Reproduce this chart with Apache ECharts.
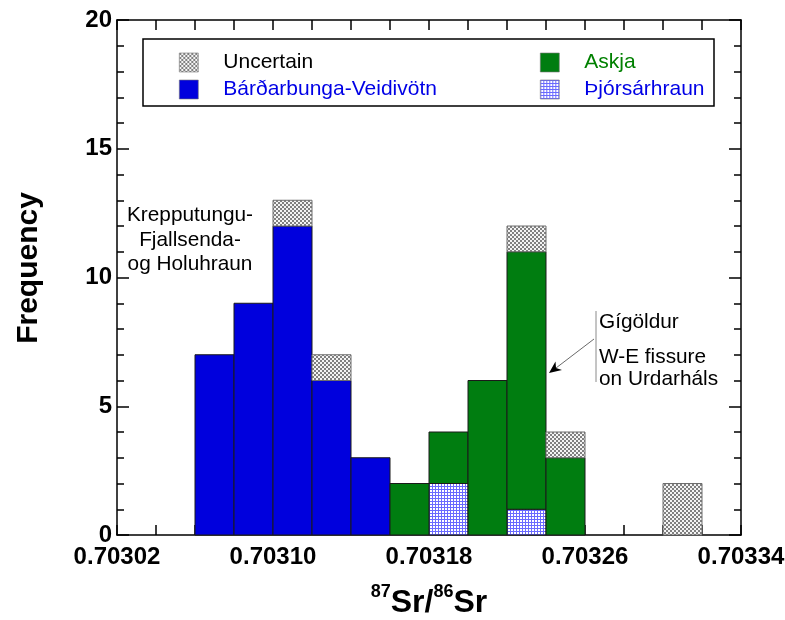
<!DOCTYPE html>
<html>
<head>
<meta charset="utf-8">
<script src="https://cdn.jsdelivr.net/npm/echarts@6/dist/echarts.min.js"></script>
<style>html,body{margin:0;padding:0;background:#fff}#c{width:785px;height:620px}</style>
</head>
<body>
<div id="c"></div>
<script>
// ---- data ----
const xOrigin = 0.70302;
const xEnd = 0.70334;
const xTickStep = 0.00008;
const binWidth = 0.00002;
const binStart = [0.70306, 0.70308, 0.70310, 0.70312, 0.70314, 0.70316, 0.70318, 0.70320, 0.70322, 0.70324, 0.70326, 0.70328, 0.70330];
const thjorsa     = [0, 0, 0, 0, 0, 0, 2, 0, 1, 0, 0, 0, 0];
const bardarbunga = [7, 9, 12, 6, 3, 0, 0, 0, 0, 0, 0, 0, 0];
const askja       = [0, 0, 0, 0, 0, 2, 2, 6, 10, 3, 0, 0, 0];
const uncertain   = [0, 0, 1, 1, 0, 0, 0, 0, 1, 1, 0, 0, 2];
const yTicks = [0, 5, 10, 15, 20];
const names = ['Uncertain', 'Bárðarbunga-Veidivötn', 'Askja', 'Þjórsárhraun'];

// ---- patterns ----
function makeChecker() {
  const c = document.createElement('canvas'); c.width = 4; c.height = 4;
  const g = c.getContext('2d');
  g.fillStyle = '#f4f4f4'; g.fillRect(0, 0, 4, 4);
  g.fillStyle = '#808080'; g.fillRect(0, 0, 2, 2); g.fillRect(2, 2, 2, 2);
  return c;
}
function makeGrid() {
  const c = document.createElement('canvas'); c.width = 3; c.height = 3;
  const g = c.getContext('2d');
  g.fillStyle = '#ffffff'; g.fillRect(0, 0, 3, 3);
  g.fillStyle = '#6a6aff'; g.fillRect(0, 0, 3, 1); g.fillRect(0, 0, 1, 3);
  return c;
}
const checkerPat = { image: makeChecker(), repeat: 'repeat' };
const gridPat = { image: makeGrid(), repeat: 'repeat' };
const BLUE = '#0000dd', GREEN = '#007d10';

// ---- build stacked rectangles (x in units of 1e-5 from origin) ----
const toX = v => Math.round((v - xOrigin) * 1e5 * 1000) / 1000;
const bw = Math.round(binWidth * 1e5 * 1000) / 1000;
const stackOrder = [
  { name: 'Þjórsárhraun', vals: thjorsa },
  { name: 'Bárðarbunga-Veidivötn', vals: bardarbunga },
  { name: 'Askja', vals: askja },
  { name: 'Uncertain', vals: uncertain }
];
const base = binStart.map(() => 0);
const rectData = {};
stackOrder.forEach(s => {
  rectData[s.name] = [];
  s.vals.forEach((v, i) => {
    if (v > 0) {
      const x0 = toX(binStart[i]);
      rectData[s.name].push([x0, x0 + bw, base[i], base[i] + v]);
      base[i] += v;
    }
  });
});

const styles = {
  'Uncertain': { fill: checkerPat, stroke: '#6e6e6e' },
  'Bárðarbunga-Veidivötn': { fill: BLUE, stroke: '#1a1a1a' },
  'Askja': { fill: GREEN, stroke: '#1a1a1a' },
  'Þjórsárhraun': { fill: gridPat, stroke: '#1a1a1a' }
};

function makeSeries(name) {
  return {
    name: name,
    type: 'custom',
    xAxisIndex: 0, yAxisIndex: 0,
    encode: { x: [0, 1], y: [2, 3] },
    itemStyle: { color: styles[name].fill },
    data: rectData[name],
    renderItem: function (params, api) {
      const p0 = api.coord([api.value(0), api.value(3)]);
      const p1 = api.coord([api.value(1), api.value(2)]);
      return {
        type: 'rect',
        shape: { x: p0[0], y: p0[1], width: p1[0] - p0[0], height: p1[1] - p0[1] },
        style: { fill: styles[name].fill, stroke: styles[name].stroke, lineWidth: 1 }
      };
    }
  };
}

const FONT = '"Liberation Sans", Arial, sans-serif';
const ANN = '20.8px ' + FONT;
const xMaxU = toX(xEnd), xStepU = Math.round(xTickStep * 1e5);
const yMin = yTicks[0], yMax = yTicks[yTicks.length - 1], yStep = yTicks[1] - yTicks[0];

const axisLine = { show: true, onZero: false, lineStyle: { color: '#000', width: 1.5 } };
const xCommon = {
  type: 'value', min: 0, max: xMaxU, interval: xStepU,
  axisLine: axisLine, splitLine: { show: false },
  axisTick: { show: true, inside: true, length: 10, lineStyle: { color: '#000', width: 1.5 } },
  minorTick: { show: true, splitNumber: 4, length: 10, lineStyle: { color: '#000', width: 1.5 } },
  minorSplitLine: { show: false }
};
const yCommon = {
  type: 'value', min: yMin, max: yMax, interval: yStep,
  axisLine: axisLine, splitLine: { show: false },
  axisTick: { show: true, inside: true, length: 12, lineStyle: { color: '#000', width: 1.5 } },
  minorTick: { show: true, splitNumber: 5, length: 7, lineStyle: { color: '#000', width: 1.5 } },
  minorSplitLine: { show: false }
};

function legendBlock(items, left) {
  return {
    orient: 'vertical', left: left, top: 52,
    padding: 0, itemGap: 6, itemWidth: 19, itemHeight: 19,
    icon: 'rect', selectedMode: false,
    textStyle: { fontFamily: FONT, fontSize: 21, padding: [0, 0, 0, 20] },
    itemStyle: { borderColor: '#777', borderWidth: 0.6 },
    data: items
  };
}

const chart = echarts.init(document.getElementById('c'), null, { renderer: 'canvas' });
chart.setOption({
  animation: false,
  backgroundColor: '#fff',
  grid: { left: 117, right: 44, top: 20, bottom: 85, containLabel: false, outerBoundsMode: 'none' },
  xAxis: [
    Object.assign({}, xCommon, {
      position: 'bottom',
      axisLabel: {
        margin: 10, color: '#000', fontFamily: FONT, fontSize: 24, fontWeight: 'bold',
        formatter: v => (xOrigin + v * 1e-5).toFixed(5)
      },
      name: '{sup|87}{b|Sr/}{sup|86}{b|Sr}',
      nameLocation: 'middle', nameGap: 48,
      nameTextStyle: {
        rich: {
          b: { fontFamily: FONT, fontSize: 32, fontWeight: 'bold', color: '#000', verticalAlign: 'bottom', lineHeight: 36 },
          sup: { fontFamily: FONT, fontSize: 18, fontWeight: 'bold', color: '#000', verticalAlign: 'top', lineHeight: 36, padding: [0, 0, 14, 0] }
        }
      }
    }),
    Object.assign({}, xCommon, { position: 'top', axisLabel: { show: false } })
  ],
  yAxis: [
    Object.assign({}, yCommon, {
      position: 'left',
      axisLabel: { margin: 5, color: '#000', fontFamily: FONT, fontSize: 24, fontWeight: 'bold' }
    }),
    Object.assign({}, yCommon, { position: 'right', axisLabel: { show: false } })
  ],
  legend: [
    legendBlock([
      { name: names[0], textStyle: { color: '#000' } },
      { name: names[1], textStyle: { color: '#0000e6' } }
    ], 179),
    legendBlock([
      { name: names[2], textStyle: { color: '#008000' } },
      { name: names[3], textStyle: { color: '#0000e6' } }
    ], 540)
  ],
  series: [
    makeSeries('Þjórsárhraun'),
    makeSeries('Bárðarbunga-Veidivötn'),
    makeSeries('Askja'),
    makeSeries('Uncertain')
  ],
  graphic: [
    { type: 'text', x: 29, y: 268, rotation: Math.PI / 2,
      style: { text: 'Frequency', font: 'bold 30px ' + FONT, fill: '#000', textAlign: 'center', textVerticalAlign: 'middle' } },
    { type: 'rect', z: 0, shape: { x: 143, y: 39, width: 571, height: 67 },
      style: { fill: 'none', stroke: '#000', lineWidth: 1.5 } },
    { type: 'text', x: 190, y: 215, style: { text: 'Krepputungu-', font: ANN, fill: '#000', textAlign: 'center', textVerticalAlign: 'middle' } },
    { type: 'text', x: 190, y: 240, style: { text: 'Fjallsenda-', font: ANN, fill: '#000', textAlign: 'center', textVerticalAlign: 'middle' } },
    { type: 'text', x: 190, y: 264, style: { text: 'og Holuhraun', font: ANN, fill: '#000', textAlign: 'center', textVerticalAlign: 'middle' } },
    { type: 'line', shape: { x1: 596, y1: 311, x2: 596, y2: 382 }, style: { stroke: '#8a8a8a', lineWidth: 1 } },
    { type: 'line', shape: { x1: 594, y1: 339, x2: 556, y2: 368 }, style: { stroke: '#6a6a6a', lineWidth: 1 } },
    { type: 'polygon', shape: { points: [[549, 373], [562, 370], [556, 368], [555.5, 361.5]] }, style: { fill: '#000' } },
    { type: 'text', x: 599, y: 322, style: { text: 'Gígöldur', font: ANN, fill: '#000', textAlign: 'left', textVerticalAlign: 'middle' } },
    { type: 'text', x: 599, y: 357, style: { text: 'W-E fissure', font: ANN, fill: '#000', textAlign: 'left', textVerticalAlign: 'middle' } },
    { type: 'text', x: 599, y: 379, style: { text: 'on Urdarháls', font: ANN, fill: '#000', textAlign: 'left', textVerticalAlign: 'middle' } }
  ]
});
</script>
</body>
</html>
